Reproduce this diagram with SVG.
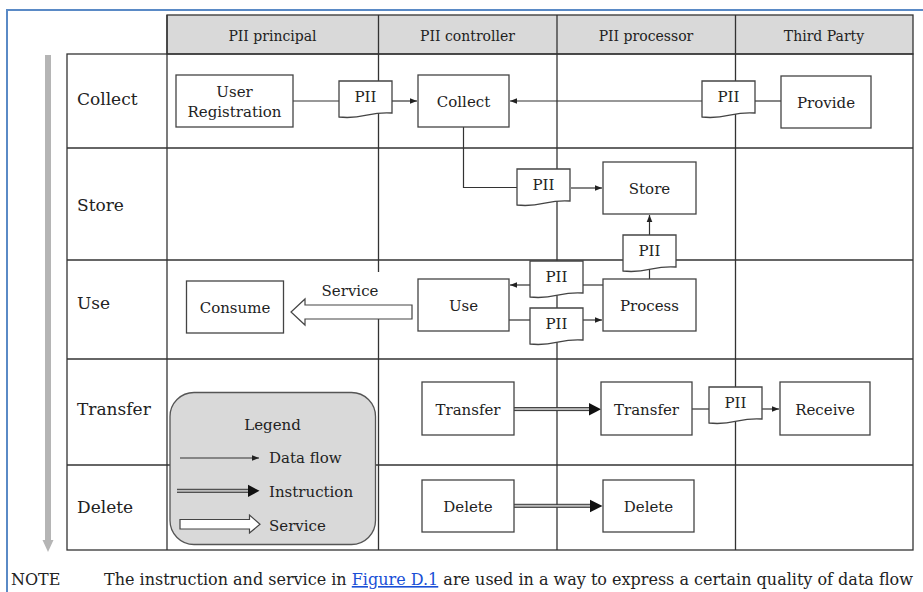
<svg xmlns="http://www.w3.org/2000/svg" width="923" height="592" viewBox="0 0 923 592">
<style>
text{font-family:"DejaVu Serif","Liberation Serif",serif;fill:#222;}
.hd{font-size:14px;text-anchor:middle;}
.rl{font-size:17px;}
.bt{font-size:15px;text-anchor:middle;}
.pii{font-size:15px;text-anchor:middle;}
.lg{font-size:15px;}
.note{font-size:16px;}
.grid{stroke:#333;stroke-width:1.3;fill:none;}
.box{fill:#fff;stroke:#444;stroke-width:1.3;}
.doc{fill:#fff;stroke:#444;stroke-width:1.3;}
.flow{stroke:#333;stroke-width:1.2;fill:none;}
.df{stroke:#333;stroke-width:1.2;fill:none;marker-end:url(#ah);}
.ins{stroke:#333;stroke-width:1;fill:none;}
.svc{fill:#fff;stroke:#444;stroke-width:1.2;}
</style>
<defs>
<marker id="ah" markerUnits="userSpaceOnUse" markerWidth="8" markerHeight="8" refX="7" refY="4" orient="auto">
<path d="M0,1.2 L7,4 L0,6.8 Z" fill="#222"/>
</marker>
<path id="docshape" d="M0,0 H53 V32 C30,30 24,39 0,36 Z"/>
</defs>
<rect x="0" y="0" width="923" height="592" fill="#fff"/>
<!-- page border -->
<rect x="7" y="10" width="940" height="620" fill="none" stroke="#5a8ac6" stroke-width="2"/>
<!-- vertical lifecycle arrow -->
<path d="M45,55 H51 V540 H53.5 L48,552 L42.5,540 H45 Z" fill="#b5b5b5"/>
<!-- table -->
<g id="table">
<rect x="167" y="15" width="746" height="39" fill="#d9d9d9"/>
<rect x="167" y="15" width="746" height="39" class="grid"/>
<rect x="67" y="54" width="846" height="496" class="grid"/>
<line x1="167" y1="15" x2="167" y2="550" class="grid"/>
<line x1="378.5" y1="15" x2="378.5" y2="550" class="grid"/>
<line x1="557" y1="15" x2="557" y2="550" class="grid"/>
<line x1="735.5" y1="15" x2="735.5" y2="550" class="grid"/>
<line x1="67" y1="148" x2="913" y2="148" class="grid"/>
<line x1="67" y1="260" x2="913" y2="260" class="grid"/>
<line x1="67" y1="359" x2="913" y2="359" class="grid"/>
<line x1="67" y1="465" x2="913" y2="465" class="grid"/>
<text class="hd" x="272.5" y="41">PII principal</text>
<text class="hd" x="467.5" y="41">PII controller</text>
<text class="hd" x="646" y="41">PII processor</text>
<text class="hd" x="824" y="41">Third Party</text>
<text class="rl" x="77" y="105">Collect</text>
<text class="rl" x="77" y="211">Store</text>
<text class="rl" x="77" y="309">Use</text>
<text class="rl" x="77" y="415">Transfer</text>
<text class="rl" x="77" y="513">Delete</text>
</g>
<!-- connectors -->
<g id="connectors">
<line x1="293" y1="101" x2="339" y2="101" class="flow"/>
<line x1="392" y1="101" x2="417" y2="101" class="df"/>
<line x1="702" y1="101" x2="510" y2="101" class="df"/>
<line x1="781" y1="101" x2="755" y2="101" class="flow"/>
<polyline points="463.5,127 463.5,187.5 517,187.5" class="flow"/>
<line x1="571" y1="188" x2="602" y2="188" class="df"/>
<line x1="649.5" y1="279" x2="649.5" y2="266" class="flow"/>
<line x1="649.5" y1="235" x2="649.5" y2="215" class="df"/>
<line x1="603" y1="285" x2="583" y2="285" class="flow"/>
<line x1="530" y1="285" x2="510" y2="285" class="df"/>
<line x1="509" y1="320" x2="530" y2="320" class="flow"/>
<line x1="583" y1="320" x2="602" y2="320" class="df"/>
<line x1="692" y1="409" x2="709" y2="409" class="flow"/>
<line x1="762" y1="409" x2="779" y2="409" class="df"/>
<!-- instruction arrows -->
<rect x="514" y="407.8" width="76" height="3" fill="#bbb"/>
<line x1="514" y1="407.6" x2="590" y2="407.6" class="ins"/>
<line x1="514" y1="410.6" x2="590" y2="410.6" class="ins"/>
<path d="M589,403 L601,409.2 L589,415.4 Z" fill="#111"/>
<rect x="514" y="504.5" width="77" height="3" fill="#bbb"/>
<line x1="514" y1="504.3" x2="591" y2="504.3" class="ins"/>
<line x1="514" y1="507.3" x2="591" y2="507.3" class="ins"/>
<path d="M590,499.8 L602.5,506 L590,512.2 Z" fill="#111"/>
<!-- service arrow -->
<rect x="318" y="272" width="66" height="33" fill="#fff"/>
<text class="lg" x="350" y="296" text-anchor="middle">Service</text>
<polygon points="412,305 305,305 305,299 291,312 305,325 305,319 412,319" class="svc"/>
</g>
<!-- nodes -->
<g id="user-registration">
<rect x="176" y="75" width="117" height="52" class="box"/>
<text class="bt" x="234.5" y="97">User</text>
<text class="bt" x="234.5" y="117">Registration</text>
</g>
<g id="collect">
<rect x="418" y="75" width="91" height="52" class="box"/>
<text class="bt" x="463.5" y="107">Collect</text>
</g>
<g id="provide">
<rect x="781" y="76" width="90" height="52" class="box"/>
<text class="bt" x="826" y="108">Provide</text>
</g>
<g id="store">
<rect x="603" y="162" width="93" height="52" class="box"/>
<text class="bt" x="649.5" y="194">Store</text>
</g>
<g id="process">
<rect x="603" y="279" width="93" height="52" class="box"/>
<text class="bt" x="649.5" y="311">Process</text>
</g>
<g id="use">
<rect x="418" y="279" width="91" height="52" class="box"/>
<text class="bt" x="463.5" y="311">Use</text>
</g>
<g id="consume">
<rect x="186.5" y="281" width="97" height="52" class="box"/>
<text class="bt" x="235" y="313">Consume</text>
</g>
<g id="transfer-controller">
<rect x="422" y="382" width="92" height="53" class="box"/>
<text class="bt" x="468" y="415">Transfer</text>
</g>
<g id="transfer-processor">
<rect x="601" y="382" width="91" height="53" class="box"/>
<text class="bt" x="646.5" y="415">Transfer</text>
</g>
<g id="receive">
<rect x="780" y="382" width="90" height="53" class="box"/>
<text class="bt" x="825" y="415">Receive</text>
</g>
<g id="delete-controller">
<rect x="422" y="480" width="92" height="52" class="box"/>
<text class="bt" x="468" y="512">Delete</text>
</g>
<g id="delete-processor">
<rect x="603" y="480" width="91" height="52" class="box"/>
<text class="bt" x="648.5" y="512">Delete</text>
</g>
<g id="pii-1">
<use href="#docshape" x="339" y="81" class="doc"/>
<text class="pii" x="365.5" y="102">PII</text>
</g>
<g id="pii-2">
<use href="#docshape" x="702" y="81" class="doc"/>
<text class="pii" x="728.5" y="102">PII</text>
</g>
<g id="pii-3">
<use href="#docshape" x="517" y="169" class="doc"/>
<text class="pii" x="543.5" y="190">PII</text>
</g>
<g id="pii-4">
<use href="#docshape" x="623" y="235" class="doc"/>
<text class="pii" x="649.5" y="256">PII</text>
</g>
<g id="pii-5">
<use href="#docshape" x="530" y="261" class="doc"/>
<text class="pii" x="556.5" y="282">PII</text>
</g>
<g id="pii-6">
<use href="#docshape" x="530" y="308" class="doc"/>
<text class="pii" x="556.5" y="329">PII</text>
</g>
<g id="pii-7">
<use href="#docshape" x="709" y="387" class="doc"/>
<text class="pii" x="735.5" y="408">PII</text>
</g>
<!-- legend -->
<g id="legend">
<rect x="170" y="392.5" width="205.5" height="152" rx="24" ry="24" fill="#d9d9d9" stroke="#555" stroke-width="1.3"/>
<text class="lg" x="272.5" y="430" text-anchor="middle">Legend</text>
<line x1="180" y1="458" x2="259" y2="458" class="df"/>
<text class="lg" x="269" y="463">Data flow</text>
<rect x="177" y="489.5" width="72" height="3" fill="#bbb"/>
<line x1="177" y1="489.3" x2="249" y2="489.3" class="ins"/>
<line x1="177" y1="492.3" x2="249" y2="492.3" class="ins"/>
<path d="M248,484.7 L259.5,490.8 L248,496.9 Z" fill="#111"/>
<text class="lg" x="269" y="497">Instruction</text>
<polygon points="180,519.5 249.5,519.5 249.5,515 260,524.3 249.5,533 249.5,529 180,529" class="svc"/>
<text class="lg" x="269" y="530.5">Service</text>
</g>
<!-- note -->
<text x="11" y="585" class="note">NOTE</text>
<text x="104" y="585" class="note">The instruction and service in <tspan style="fill:#1a4fd6" text-decoration="underline">Figure D.1</tspan> are used in a way to express a certain quality of data flow</text>
</svg>
